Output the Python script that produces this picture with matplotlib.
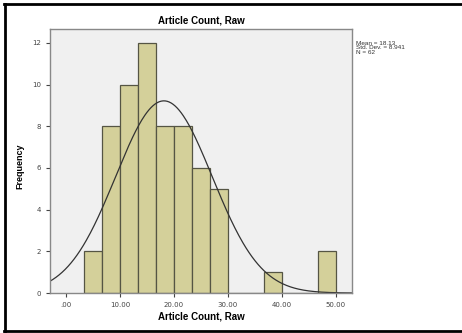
import matplotlib.pyplot as plt
import numpy as np

# histogram bins (width 10/3) and counts
bin_edges = [10 / 3 * k for k in range(1, 16)]
counts = [2, 8, 10, 12, 8, 8, 6, 5, 0, 0, 1, 0, 0, 2]
mean, sd, n = 18.13, 8.941, 62
xticks = [0, 10, 20, 30, 40, 50]
yticks = [0, 2, 4, 6, 8, 10, 12]

fig = plt.figure(figsize=(4.62, 3.33), dpi=100)
ax = fig.add_axes([0.108, 0.120, 0.654, 0.793])
ax.set_facecolor('#f0f0f0')

widths = np.diff(bin_edges)
ax.bar(bin_edges[:-1], counts, width=widths, align='edge',
       color='#d4d09a', edgecolor='#555544', linewidth=0.9)

xs = np.linspace(-3, 53, 300)
scale = n * widths[0]
ys = scale / (sd * np.sqrt(2 * np.pi)) * np.exp(-0.5 * ((xs - mean) / sd) ** 2)
ax.plot(xs, ys, color='#333333', lw=0.9)

ax.set_xlim(-3, 53)
ax.set_ylim(0, 12.67)
ax.set_xticks(xticks)
ax.set_xticklabels([('%.2f' % v).lstrip('0') if v == 0 else '%.2f' % v for v in xticks])
ax.set_yticks(yticks)
ax.tick_params(labelsize=5, colors='#444444', length=3, width=0.8, direction='out')
for s in ax.spines.values():
    s.set_color('#888888')
    s.set_linewidth(1.0)

fig.text(0.435, 0.937, 'Article Count, Raw', ha='center', va='center',
         fontsize=7, fontweight='bold', family='Liberation Sans')
fig.text(0.435, 0.051, 'Article Count, Raw', ha='center', va='center',
         fontsize=7, fontweight='bold', family='Liberation Sans')
fig.text(0.043, 0.5, 'Frequency', ha='center', va='center', rotation=90,
         fontsize=6.5, fontweight='bold', family='Liberation Sans')
fig.text(0.771, 0.878, 'Mean = %.2f\nStd. Dev. = %.3f\nN = %d' % (mean, sd, n),
         ha='left', va='top', fontsize=4.6, linespacing=0.95,
         color='#333333', family='Liberation Sans')

# outer frame
fig.add_artist(plt.Line2D([4 / 462, 1], [1 - 4 / 333] * 2, color='black', lw=2))
fig.add_artist(plt.Line2D([5 / 462] * 2, [1 - 4 / 333, 2 / 333], color='black', lw=2))
fig.add_artist(plt.Line2D([4 / 462, 1], [2 / 333] * 2, color='black', lw=2))

fig.savefig('out.png', dpi=100)
